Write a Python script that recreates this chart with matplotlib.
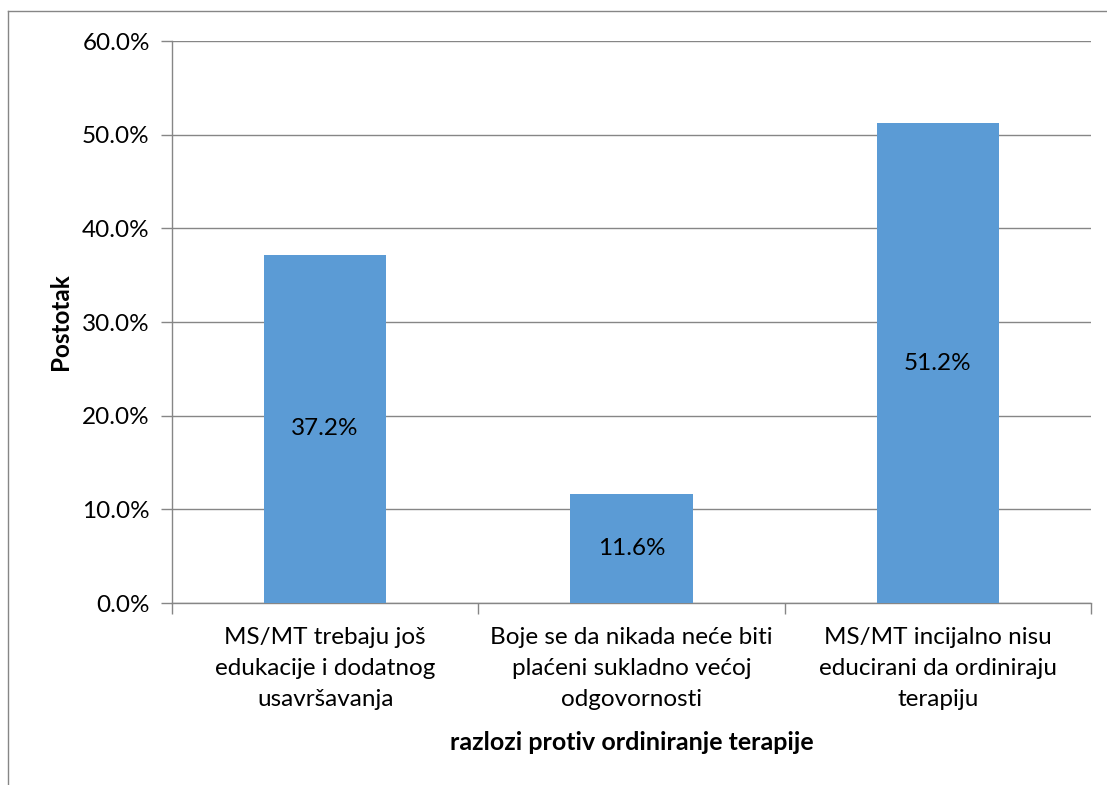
import matplotlib.pyplot as plt
from matplotlib.lines import Line2D
from matplotlib.ticker import FuncFormatter

plt.rcParams['font.family'] = ['Lato', 'DejaVu Sans']

# Data
categories = [
    "MS/MT trebaju još\nedukacije i dodatnog\nusavršavanja",
    "Boje se da nikada neće biti\nplaćeni sukladno većoj\nodgovornosti",
    "MS/MT incijalno nisu\neducirani da ordiniraju\nterapiju",
]
percent = [37.2, 11.6, 51.2]
y_ticks = [0, 10, 20, 30, 40, 50, 60]

bar_color = "#5B9BD5"
line_color = "#868686"

fig = plt.figure(figsize=(11.07, 7.85), dpi=100)
W, H = 1107, 785
ax = fig.add_axes([172 / W, 1 - 603 / H, (1091 - 172) / W, (603 - 41) / H])

x = range(len(categories))
bars = ax.bar(x, percent, width=0.4, color=bar_color, zorder=3)
for b, v in zip(bars, percent):
    ax.text(b.get_x() + b.get_width() / 2, v / 2, f"{v:.1f}%",
            ha="center", va="center", fontsize=17.5, color="black", zorder=4)

ax.set_xlim(-0.5, len(categories) - 0.5)
ax.set_ylim(0, 60)
ax.set_yticks(y_ticks)
ax.yaxis.set_major_formatter(FuncFormatter(lambda v, p: f"{v:.1f}%"))
ax.yaxis.grid(True, color=line_color, linewidth=1, zorder=0)

ax.set_xticks(x)
ax.set_xticklabels(categories, fontsize=17.5, linespacing=1.6)
ax.set_xticks([i - 0.5 for i in range(len(categories) + 1)], minor=True)
ax.tick_params(axis="x", which="major", length=0, pad=17)
ax.tick_params(axis="x", which="minor", length=8, color=line_color, width=1)
ax.tick_params(axis="y", length=8, color=line_color, width=1, labelsize=17.5, pad=8)

for side in ["top", "right"]:
    ax.spines[side].set_visible(False)
for side in ["left", "bottom"]:
    ax.spines[side].set_color(line_color)
    ax.spines[side].set_linewidth(1)

ax.set_ylabel("Postotak", fontsize=17.5, fontweight="bold", labelpad=7)
ax.set_xlabel("razlozi protiv ordiniranje terapije", fontsize=18,
              fontweight="bold", labelpad=15)

# outer chart frame (cropped on the right and bottom)
fig.add_artist(Line2D([8 / W, 8 / W], [0, 1 - 11 / H], transform=fig.transFigure,
                      color=line_color, linewidth=1))
fig.add_artist(Line2D([8 / W, 1], [1 - 11 / H, 1 - 11 / H], transform=fig.transFigure,
                      color=line_color, linewidth=1))

fig.savefig("out.png", dpi=100, facecolor="white")
